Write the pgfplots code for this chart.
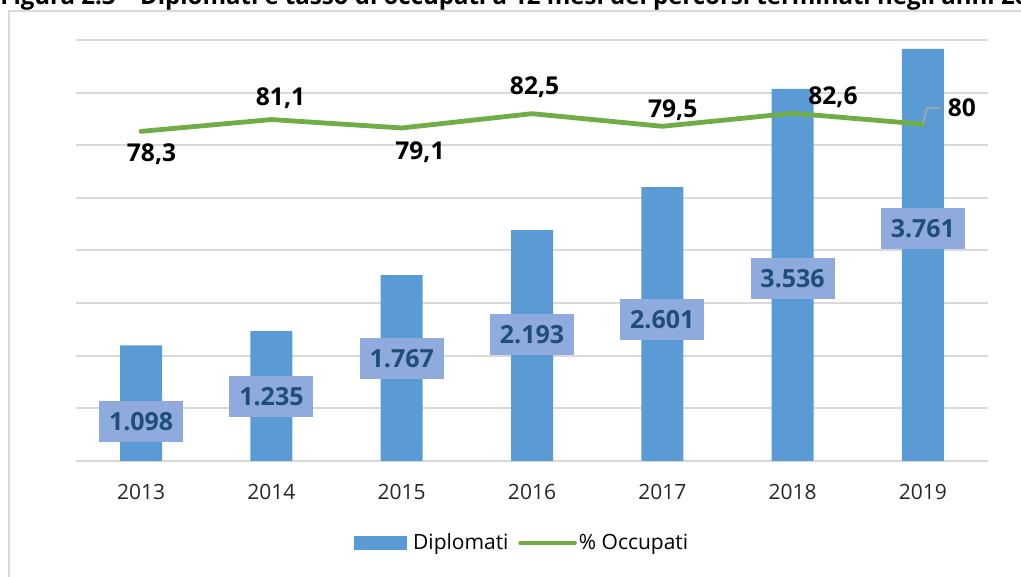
\documentclass[border=0pt]{standalone}
\usepackage{fontspec}
\setmainfont{Open Sans}
\usepackage{pgfplots}
\usepackage{pgfplotstable}
\pgfplotsset{compat=1.18}
\definecolor{barblue}{HTML}{5B9BD5}
\definecolor{linegreen}{HTML}{70AD47}
\definecolor{gridgrey}{HTML}{D9D9D9}
\definecolor{boxblue}{HTML}{8FAADC}
\definecolor{labblue}{HTML}{1F4E79}
\definecolor{ticktext}{HTML}{262626}

% the 2019 bar is drawn taller than its label in the source chart
\pgfplotstableread{
x anno diplomati occupati
0 2013 1098 78.3
1 2014 1235 81.1
2 2015 1767 79.1
3 2016 2193 82.5
4 2017 2601 79.5
5 2018 3536 82.6
6 2019 3915 80.0
}\datatab

\pgfplotsset{
    base/.style={
        at={(38pt,58pt)}, anchor=south west,
        scale only axis, width=456pt, height=210.5pt,
        xmin=-0.5, xmax=6.5,
        clip=false,
    },
}
\tikzset{
    boxlab/.style={fill=boxblue, text=labblue, inner sep=0pt,
        font=\bfseries\fontsize{12.5}{14}\selectfont,
        minimum width=42pt, minimum height=20.5pt},
    linelab/.style={text=black, inner sep=0pt,
        font=\bfseries\fontsize{12.3}{14}\selectfont},
}

\begin{document}
\begin{tikzpicture}
\useasboundingbox (0,0) rectangle (510.5pt,288.5pt);
\clip (0,0) rectangle (510.5pt,288.5pt);
\draw[gridgrey, line width=1pt] (4.5pt,283pt) rectangle (530pt,-10pt);
\node[anchor=base west, inner sep=0pt, font=\bfseries\fontsize{12}{13}\selectfont]
    at (0pt,286.3pt) {Figura 2.3 – Diplomati e tasso di occupati a 12 mesi dei percorsi terminati negli anni 2013-2019};

% ---------------- barre: diplomati ----------------
\begin{axis}[base,
    ymin=0, ymax=4000,
    ytick={0,500,...,4000}, yticklabels={},
    xtick={0,...,6}, xticklabels={2013,2014,2015,2016,2017,2018,2019},
    major tick length=0pt,
    axis line style={draw=none},
    ymajorgrids, grid style={gridgrey, line width=1pt},
    tick label style={font=\fontsize{10.5}{12}\selectfont, text=ticktext},
    xticklabel style={anchor=center, yshift=-15.5pt},
]
\addplot[ybar, bar width=21pt, fill=barblue, draw=none]
    table[x=x, y=diplomati] {\datatab};

\node[boxlab] at (axis cs:0,375)  {1.098};
\node[boxlab] at (axis cs:1,613)  {1.235};
\node[boxlab] at (axis cs:2,974)  {1.767};
\node[boxlab] at (axis cs:3,1202) {2.193};
\node[boxlab] at (axis cs:4,1344) {2.601};
\node[boxlab] at (axis cs:5,1734) {3.536};
\node[boxlab] at (axis cs:6,2209) {3.761};
\end{axis}

% ---------------- linea: % occupati ----------------
\begin{axis}[base,
    ymin=0, ymax=100,
    hide axis,
    legend style={at={(0.489,-0.195)}, anchor=center, draw=none, fill=none,
        legend columns=-1, font=\fontsize{10.5}{12}\selectfont,
        nodes={inner sep=1pt},
        /tikz/every even column/.append style={column sep=1pt}},
]
\addlegendimage{legend image code/.code={
    \fill[barblue] (0pt,-3.25pt) rectangle (26pt,3.25pt);
    \path[draw=none, fill=none] (0pt,0pt) -- (28.5pt,0pt);}}
\addlegendentry{Diplomati}
\addplot[linegreen, line width=2.4pt, line cap=round, line join=round, mark=none,
    legend image code/.code={
    \path[draw=none, fill=none] (-4pt,0pt) -- (0pt,0pt);
    \draw[linegreen, line width=2.4pt, line cap=round] (0pt,0pt) -- (27pt,0pt);}]
    table[x=x, y=occupati] {\datatab};
\addlegendentry{\% Occupati}

\node[linelab] at (axis cs:0.08,72.9) {78,3};
\node[linelab] at (axis cs:1.07,86.2) {81,1};
\node[linelab] at (axis cs:2.14,73.4) {79,1};
\node[linelab] at (axis cs:3.02,88.8) {82,5};
\node[linelab] at (axis cs:4.08,83.4) {79,5};
\node[linelab] at (axis cs:5.31,86.5) {82,6};
\node[linelab] at (axis cs:6.30,83.8) {80};
\draw[gray!70, line width=0.75pt] (axis cs:6,80) -- (axis cs:6.03,83.8) -- (axis cs:6.13,83.8);
\end{axis}
\end{tikzpicture}
\end{document}
